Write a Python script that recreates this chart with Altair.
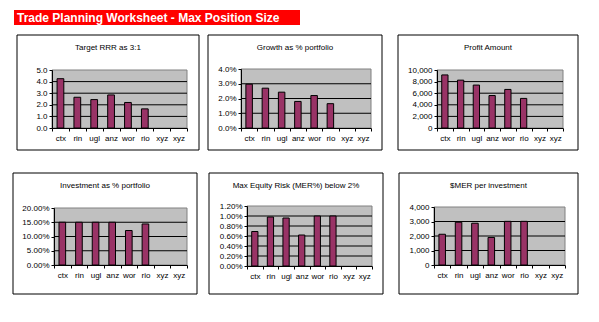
import altair as alt
import pandas as pd

# ---------------- data ----------------
categories = ["ctx", "rin", "ugl", "anz", "wor", "rio", "xyz", "xyz"]
keys = [f"{c}_{i}" for i, c in enumerate(categories)]

banner_text = "Trade Planning Worksheet - Max Position Size"
titles = [
    "Target RRR as 3:1",
    "Growth as % portfolio",
    "Profit Amount",
    "Investment as % portfolio",
    "Max Equity Risk (MER%) below 2%",
    "$MER per investment",
]

rrr = [4.25, 2.65, 2.45, 2.85, 2.2, 1.65, None, None]
growth = [0.0297, 0.0270, 0.0243, 0.0180, 0.0220, 0.0165, None, None]
profit = [9150, 8250, 7400, 5600, 6650, 5100, None, None]
investment = [0.150, 0.150, 0.150, 0.150, 0.121, 0.144, None, None]
mer_pct = [0.0069, 0.0098, 0.0096, 0.0062, 0.0100, 0.0100, None, None]
mer_amt = [2120, 2950, 2880, 1900, 3010, 3010, None, None]

rrr_ticks = [0, 1, 2, 3, 4, 5]
growth_ticks = [0, 0.01, 0.02, 0.03, 0.04]
profit_ticks = [0, 2000, 4000, 6000, 8000, 10000]
inv_ticks = [0, 0.05, 0.10, 0.15, 0.20]
mer_pct_ticks = [0, 0.002, 0.004, 0.006, 0.008, 0.010, 0.012]
mer_amt_ticks = [0, 1000, 2000, 3000, 4000]

FONT = "Liberation Sans"
BAR = "#993366"
PLOT_BG = "#C0C0C0"


def panel(title, values, ticks, fmt, cell, box, plot, title_y, banner=False):
    cw, ch = cell
    bx0, by0, bx1, by1 = box
    px0, py0, px1, py1 = plot
    df = pd.DataFrame({"key": keys, "value": values})
    grid_df = pd.DataFrame({"value": ticks[1:-1]})
    one = alt.Data(values=[{"a": 1}])
    xs = alt.Scale(domain=keys, range=[px0, px1], paddingInner=0, paddingOuter=0)
    ys = alt.Scale(domain=[ticks[0], ticks[-1]], range=[py1, py0], nice=False)
    y_axis = alt.Axis(
        title=None, orient="left", offset=-px0, values=ticks, format=fmt,
        grid=False, labelOverlap=False, labelFont=FONT, labelFontSize=8,
        labelColor="black", labelPadding=2, domain=True, domainColor="black",
        domainWidth=1, ticks=True, tickColor="black", tickSize=3, tickWidth=1, zindex=2,
    )
    x_axis = alt.Axis(
        title=None, orient="bottom", offset=py1 - ch, tickBand="extent",
        labelExpr="split(datum.label, '_')[0]", labelAngle=0,
        labelFont=FONT, labelFontSize=8, labelColor="black", labelPadding=3,
        domain=True, domainColor="black", domainWidth=1, ticks=True,
        tickColor="black", tickSize=3, tickWidth=1, zindex=2,
    )

    layers = []
    layers.append(
        alt.Chart(one).mark_rect(filled=False, stroke="black", strokeWidth=1).encode(
            x=alt.value(bx0), x2=alt.value(bx1), y=alt.value(by0), y2=alt.value(by1)
        )
    )
    layers.append(
        alt.Chart(one).mark_rect(fill=PLOT_BG, stroke="#808080", strokeWidth=1).encode(
            x=alt.value(px0), x2=alt.value(px1), y=alt.value(py0), y2=alt.value(py1)
        )
    )
    layers.append(
        alt.Chart(grid_df).mark_rule(color="black", strokeWidth=1).encode(
            y=alt.Y("value:Q", scale=ys, axis=y_axis), x=alt.value(px0), x2=alt.value(px1)
        )
    )
    layers.append(
        alt.Chart(df).mark_bar(color=BAR, stroke="black", strokeWidth=1, width={"band": 0.4}).encode(
            x=alt.X("key:N", scale=xs, sort=keys, axis=x_axis),
            y=alt.Y("value:Q", scale=ys, axis=y_axis),
        )
    )
    layers.append(
        alt.Chart(one).mark_text(
            text=title, font=FONT, fontSize=8, color="black", align="center", baseline="middle"
        ).encode(x=alt.value((bx0 + bx1) / 2), y=alt.value(title_y))
    )
    if banner:
        layers.append(
            alt.Chart(one).mark_rect(fill="#FF0000").encode(
                x=alt.value(14), x2=alt.value(300), y=alt.value(10), y2=alt.value(25)
            )
        )
        layers.append(
            alt.Chart(one).mark_text(
                text=banner_text, font=FONT, fontSize=12, fontWeight="bold", color="white",
                align="left", baseline="middle",
            ).encode(x=alt.value(17), y=alt.value(17.5))
        )
    return alt.layer(*layers).properties(width=cw, height=ch)


p1 = panel(titles[0], rrr, rrr_ticks, ".1f", (204, 164), (17, 35, 199, 150), (52, 70, 187, 128), 48, banner=True)
p2 = panel(titles[1], growth, growth_ticks, ".1%", (189, 164), (4, 35, 178, 150), (37, 69, 167, 128), 48)
p3 = panel(titles[2], profit, profit_ticks, ",d", (206, 164), (5, 35, 185, 150), (44, 70, 170, 128), 48)
p4 = panel(titles[3], investment, inv_ticks, ".2%", (204, 158), (13, 9, 197, 130), (54, 44, 187, 101), 22)
p5 = panel(titles[4], mer_pct, mer_pct_ticks, ".2%", (189, 158), (5, 9, 179, 130), (43, 42, 168, 102), 22)
p6 = panel(titles[5], mer_amt, mer_amt_ticks, ",d", (206, 158), (6, 9, 185, 130), (41, 43, 172, 101), 22)

chart = (
    alt.concat(p1, p2, p3, p4, p5, p6, columns=3, spacing=0, bounds="flush")
    .properties(padding=0, background="white")
    .configure_view(stroke=None)
)

chart.save("out.html", embed_options={"renderer": "svg", "actions": False})
